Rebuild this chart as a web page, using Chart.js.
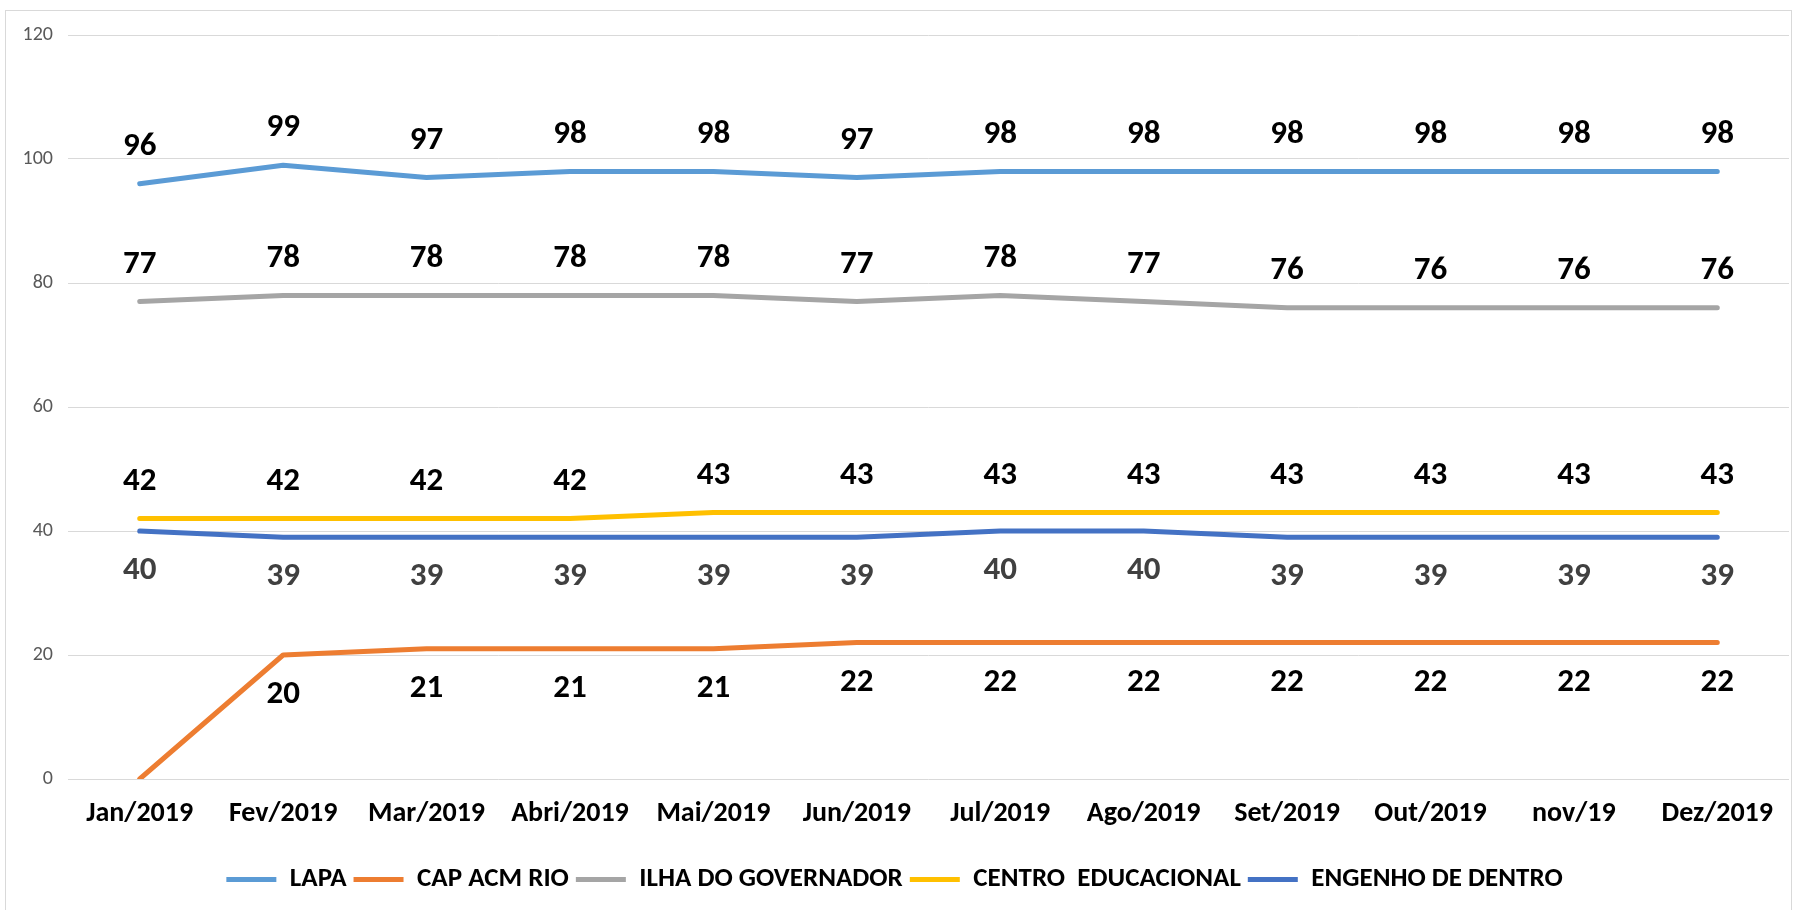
<!DOCTYPE html>
<html>
<head>
<meta charset="utf-8">
<script src="https://cdn.jsdelivr.net/npm/chart.js@4.4.1/dist/chart.umd.min.js"></script>
<style>
  html, body { margin: 0; padding: 0; background: #ffffff; }
  canvas { display: block; }
</style>
</head>
<body>
<canvas id="c" width="1793" height="910"></canvas>
<script>
const categories = ["Jan/2019","Fev/2019","Mar/2019","Abri/2019","Mai/2019","Jun/2019","Jul/2019","Ago/2019","Set/2019","Out/2019","nov/19","Dez/2019"];
const lapa       = [96, 99, 97, 98, 98, 97, 98, 98, 98, 98, 98, 98];
const capAcmRio  = [0, 20, 21, 21, 21, 22, 22, 22, 22, 22, 22, 22];
const ilha       = [77, 78, 78, 78, 78, 77, 78, 77, 76, 76, 76, 76];
const centro     = [42, 42, 42, 42, 43, 43, 43, 43, 43, 43, 43, 43];
const engenho    = [40, 39, 39, 39, 39, 39, 40, 40, 39, 39, 39, 39];
const yTicks     = [0, 20, 40, 60, 80, 100, 120];

const FONT = "Carlito, Lato, 'Open Sans', sans-serif";

const frame = {
  id: 'frame',
  beforeDraw(chart) {
    const ctx = chart.ctx;
    ctx.save();
    ctx.fillStyle = '#ffffff';
    ctx.fillRect(0, 0, chart.width, chart.height);
    ctx.strokeStyle = '#d9d9d9';
    ctx.lineWidth = 1;
    ctx.strokeRect(5.5, 10.5, 1786, 910);
    ctx.restore();
  }
};

const valueLabels = {
  id: 'valueLabels',
  afterDatasetsDraw(chart) {
    const ctx = chart.ctx;
    ctx.save();
    ctx.font = "bold 33px " + FONT;
    ctx.textAlign = 'center';
    ctx.textBaseline = 'middle';
    chart.data.datasets.forEach((ds, i) => {
      const meta = chart.getDatasetMeta(i);
      if (meta.hidden) return;
      meta.data.forEach((pt, j) => {
        const v = ds.data[j];
        if (v === 0 || v === null) return;
        const off = ds.labelPos === 'below' ? 40 : -37;
        ctx.fillStyle = ds.labelColor;
        ctx.fillText(String(v), pt.x, pt.y + off);
      });
    });
    ctx.restore();
  }
};

function ds(label, data, color, labelPos, labelColor) {
  return {
    label, data,
    borderColor: color, backgroundColor: color,
    borderWidth: 5, pointRadius: 0, pointHoverRadius: 0,
    tension: 0, borderCapStyle: 'round', borderJoinStyle: 'round',
    fill: false, labelPos, labelColor
  };
}

new Chart(document.getElementById('c'), {
  type: 'line',
  data: {
    labels: categories,
    datasets: [
      ds('LAPA', lapa, '#5B9BD5', 'above', '#000000'),
      ds('CAP ACM RIO', capAcmRio, '#ED7D31', 'below', '#000000'),
      ds('ILHA DO GOVERNADOR', ilha, '#A5A5A5', 'above', '#000000'),
      ds('CENTRO  EDUCACIONAL', centro, '#FFC000', 'above', '#000000'),
      ds('ENGENHO DE DENTRO', engenho, '#4472C4', 'below', '#404040')
    ]
  },
  options: {
    responsive: false,
    animation: false,
    devicePixelRatio: 1,
    layout: { padding: { left: 0, right: 4, top: 35, bottom: 7 } },
    plugins: {
      legend: {
        position: 'bottom',
        labels: {
          usePointStyle: true,
          pointStyle: 'line',
          pointStyleWidth: 50,
          boxHeight: 20,
          padding: 7,
          color: '#000000',
          font: { family: FONT, size: 27, weight: 'bold' }
        }
      },
      tooltip: { enabled: false }
    },
    scales: {
      x: {
        offset: true,
        grid: { display: false, drawTicks: false },
        border: { display: false },
        ticks: {
          color: '#000000',
          padding: 18,
          maxRotation: 0,
          autoSkip: false,
          font: { family: FONT, size: 28, weight: 'bold' }
        },
        afterFit(s) { s.height = 80; }
      },
      y: {
        min: 0, max: 120,
        afterBuildTicks(s) { s.ticks = yTicks.map(v => ({ value: v })); },
        grid: { color: '#d9d9d9', lineWidth: 1, drawTicks: false },
        border: { display: false },
        ticks: {
          color: '#595959',
          padding: 15,
          font: { family: FONT, size: 20 }
        },
        afterFit(s) { s.width = 68; }
      }
    }
  },
  plugins: [frame, valueLabels]
});
</script>
</body>
</html>
